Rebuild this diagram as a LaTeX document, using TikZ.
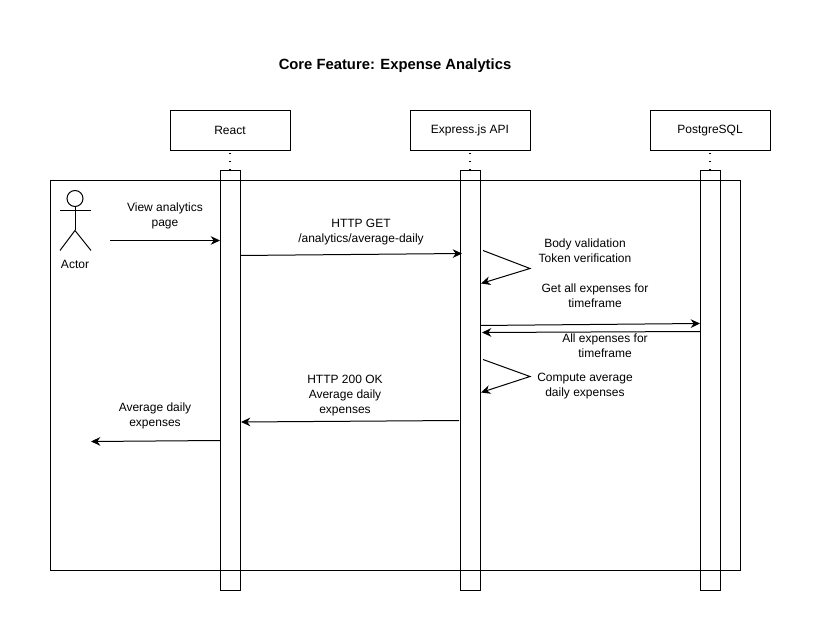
\documentclass[tikz,border=0pt]{standalone}
\usepackage{fontspec}
\setmainfont{Liberation Sans}
\usetikzlibrary{arrows.meta}
\tikzset{
    lifebox/.style={draw, line width=0.75pt, minimum width=90pt, minimum height=30pt, inner sep=0pt, outer sep=0pt, font=\fontsize{9}{11.25}\selectfont},
    lifebar/.style={draw, line width=0.75pt, minimum width=15pt, minimum height=315pt, inner sep=0pt, outer sep=0pt},
    lifeline/.style={line width=0.9pt, dash pattern=on 1.1pt off 4.9pt, dash phase=4.1pt, shorten >=-2pt},
    msg/.style={-{Stealth[length=7pt,width=6.5pt]}, line width=0.75pt},
    lbl/.style={align=center, inner sep=0pt, font=\fontsize{9}{11.25}\selectfont}
}

\begin{document}
\begin{tikzpicture}[x=0.75pt, y=-0.75pt]
    \useasboundingbox (0,-0.5) rectangle (821,640.5);

    % 1. Title
    \node[inner sep=0pt, font=\fontsize{11.1}{13}\selectfont\bfseries] (title) at (395,65) {Core Feature: Expense Analytics};

    % 2. Lifelines
    \node[lifebox] (react) at (230,130) {React};
    \node[lifebox] (api) at (470,130) {Express.js API};
    \node[lifebox] (postgres) at (710,130) {PostgreSQL};
    \node[lifebar] (reactbar) at (230,380) {};
    \node[lifebar] (apibar) at (470,380) {};
    \node[lifebar] (postgresbar) at (710,380) {};
    \draw[lifeline] (react.south) -- (reactbar.north);
    \draw[lifeline] (api.south) -- (apibar.north);
    \draw[lifeline] (postgres.south) -- (postgresbar.north);

    % 3. Frame (drawn over the bars)
    \node[draw, line width=0.75pt, minimum width=517.5pt, minimum height=292.5pt, inner sep=0pt, outer sep=0pt] (frame) at (395,375) {};

    % 4. Actor
    \node[draw, circle, line width=0.75pt, minimum size=12pt, inner sep=0pt, outer sep=0pt] (head) at (75,198) {};
    \coordinate (hip) at (75,230);
    \draw[line width=0.75pt] (head.south) -- (hip);
    \draw[line width=0.75pt] (60,210) -- (91,210);
    \draw[line width=0.75pt] (60,250) -- (hip) -- (91,250);
    \node[lbl] (actor) at (75,264) {Actor};

    % 5. Message end points
    \coordinate (viewstart) at (110,240);
    \coordinate (viewend) at (220,240);
    \coordinate (getstart) at (240,255);
    \coordinate (getend) at (462,253);
    \coordinate (checkstart) at (483,250);
    \coordinate (checktip) at (530,268);
    \coordinate (checkend) at (481,283);
    \coordinate (allstart) at (480,325);
    \coordinate (allend) at (700,323);
    \coordinate (rowsstart) at (700,331);
    \coordinate (rowsend) at (482,332);
    \coordinate (avgstart) at (483,359);
    \coordinate (avgtip) at (530,376);
    \coordinate (avgend) at (481,392);
    \coordinate (okstart) at (459,420);
    \coordinate (okend) at (241,421.5);
    \coordinate (backstart) at (220,440);
    \coordinate (backend) at (91,441);

    % 6. Messages
    \draw[msg] (viewstart) -- (viewend);
    \draw[msg] (getstart) -- (getend);
    \draw[msg] (checkstart) -- (checktip) -- (checkend);
    \draw[msg] (allstart) -- (allend);
    \draw[msg] (rowsstart) -- (rowsend);
    \draw[msg] (avgstart) -- (avgtip) -- (avgend);
    \draw[msg] (okstart) -- (okend);
    \draw[msg] (backstart) -- (backend);

    % 7. Message labels
    \node[lbl] (viewlbl) at (165,215) {View analytics\\page};
    \node[lbl] (getlbl) at (361,231.5) {HTTP GET\\/analytics/average-daily};
    \node[lbl] (checklbl) at (585,250.5) {Body validation\\Token verification};
    \node[lbl] (alllbl) at (595,295) {Get all expenses for\\timeframe};
    \node[lbl] (rowslbl) at (605,345) {All expenses for\\timeframe};
    \node[lbl] (avglbl) at (585,385.5) {Compute average\\daily expenses};
    \node[lbl] (oklbl) at (345,395.5) {HTTP 200 OK\\Average daily\\expenses};
    \node[lbl] (backlbl) at (155,415.5) {Average daily\\expenses};
\end{tikzpicture}
\end{document}
